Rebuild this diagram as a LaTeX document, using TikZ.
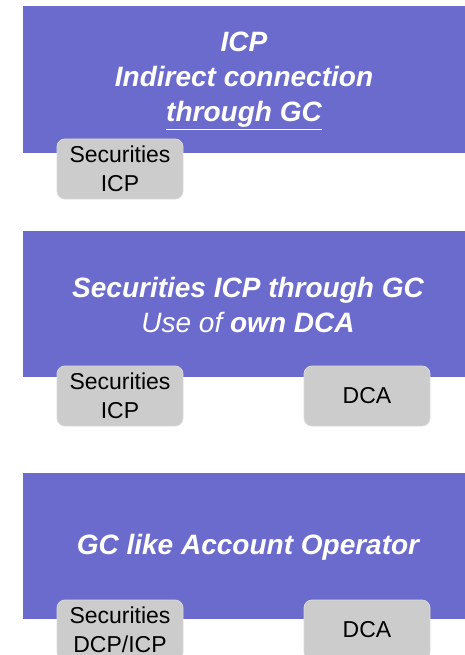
\documentclass[tikz,border=0pt]{standalone}
\usepackage{fontspec}
\setmainfont{Liberation Sans}
\definecolor{panelpurple}{HTML}{6B6BCD}
\definecolor{boxgray}{HTML}{CCCCCC}
\definecolor{boxedge}{HTML}{DADADA}
\begin{document}
\begin{tikzpicture}[x=1pt,y=-1pt,
  panel/.style={fill=panelpurple, draw=none},
  title/.style={text=white, font=\fontsize{28}{35}\selectfont\bfseries\itshape, align=center, inner sep=0pt},
  acct/.style={fill=boxgray, draw=boxedge, line width=0.8pt, rounded corners=8pt, minimum width=126pt, minimum height=60pt, inner sep=0pt, align=center, font=\fontsize{23}{29}\selectfont}
]
\useasboundingbox (0,0) rectangle (465,655);
% panel 1
\path[panel] (23,6) rectangle (465,153);
\node[title] (t1) at (244,81) {ICP\\Indirect connection\\\underline{through GC}};
\node[acct] (b1) at (120,169) {Securities\\ICP};
% panel 2
\path[panel] (23,231) rectangle (465,377);
\node[title] (t2) at (248,305) {Securities ICP through GC\\{\mdseries Use of }own DCA};
\node[acct] (b2) at (120,396) {Securities\\ICP};
\node[acct] (b3) at (367,396) {DCA};
% panel 3
\path[panel] (23,473) rectangle (465,619);
\node[title] (t3) at (248,547) {GC like Account Operator};
\node[acct] (b4) at (120,630) {Securities\\DCP/ICP};
\node[acct] (b5) at (367,630) {DCA};
\end{tikzpicture}
\end{document}
